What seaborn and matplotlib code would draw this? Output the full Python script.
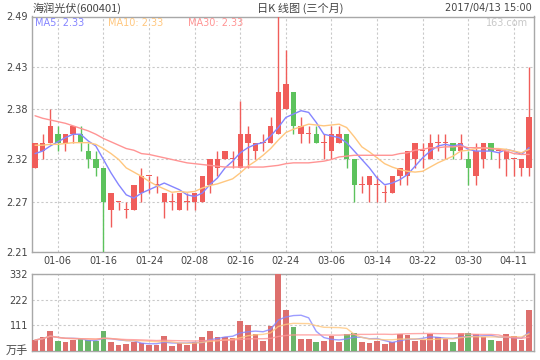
import numpy as np
import pandas as pd
import matplotlib
matplotlib.use("Agg")
import matplotlib.pyplot as plt
import seaborn as sns

# ---------------- data ----------------
dates = ["01-03", "01-04", "01-05", "01-06", "01-09", "01-10", "01-11", "01-12", "01-13",
         "01-16", "01-17", "01-18", "01-19", "01-20", "01-23", "01-24", "01-25", "01-26",
         "02-03", "02-06", "02-07", "02-08", "02-09", "02-10", "02-13", "02-14", "02-15",
         "02-16", "02-17", "02-20", "02-21", "02-22", "02-23", "02-24", "02-27", "02-28",
         "03-01", "03-02", "03-03", "03-06", "03-07", "03-08", "03-09", "03-10", "03-13",
         "03-14", "03-15", "03-16", "03-17", "03-20", "03-21", "03-22", "03-23", "03-24",
         "03-27", "03-28", "03-29", "03-30", "03-31", "04-05", "04-06", "04-07", "04-10",
         "04-11", "04-12", "04-13"]

opens = [2.31, 2.33, 2.34, 2.35, 2.34, 2.35, 2.35, 2.33, 2.32, 2.31,
         2.26, 2.27, 2.26, 2.26, 2.28, 2.30, 2.29, 2.27, 2.27, 2.26,
         2.27, 2.27, 2.27, 2.29, 2.31, 2.32, 2.32, 2.31, 2.34, 2.33,
         2.34, 2.34, 2.35, 2.38, 2.40, 2.35, 2.35, 2.35, 2.34, 2.33,
         2.34, 2.35, 2.32, 2.29, 2.29, 2.29, 2.28, 2.28, 2.30, 2.30,
         2.32, 2.33, 2.32, 2.34, 2.34, 2.34, 2.33, 2.32, 2.30, 2.32,
         2.34, 2.33, 2.32, 2.32, 2.31, 2.31]
highs = [2.34, 2.35, 2.38, 2.36, 2.35, 2.36, 2.36, 2.34, 2.33, 2.31,
         2.28, 2.27, 2.27, 2.29, 2.31, 2.30, 2.30, 2.28, 2.28, 2.28,
         2.28, 2.28, 2.30, 2.32, 2.33, 2.33, 2.33, 2.39, 2.36, 2.34,
         2.35, 2.37, 2.49, 2.45, 2.40, 2.37, 2.36, 2.36, 2.35, 2.36,
         2.36, 2.35, 2.32, 2.30, 2.30, 2.30, 2.29, 2.30, 2.31, 2.33,
         2.34, 2.34, 2.35, 2.35, 2.35, 2.34, 2.35, 2.33, 2.34, 2.34,
         2.34, 2.33, 2.33, 2.32, 2.32, 2.43]
lows = [2.31, 2.32, 2.34, 2.33, 2.33, 2.34, 2.33, 2.31, 2.30, 2.21,
        2.24, 2.26, 2.25, 2.26, 2.27, 2.28, 2.28, 2.25, 2.26, 2.26,
        2.26, 2.26, 2.27, 2.28, 2.30, 2.32, 2.31, 2.31, 2.31, 2.32,
        2.33, 2.34, 2.35, 2.38, 2.35, 2.34, 2.34, 2.34, 2.32, 2.32,
        2.34, 2.31, 2.27, 2.28, 2.27, 2.27, 2.27, 2.28, 2.29, 2.29,
        2.31, 2.31, 2.32, 2.33, 2.32, 2.32, 2.32, 2.29, 2.29, 2.31,
        2.32, 2.31, 2.30, 2.30, 2.30, 2.30]
closes = [2.34, 2.34, 2.36, 2.34, 2.35, 2.36, 2.34, 2.32, 2.31, 2.27,
          2.28, 2.27, 2.26, 2.29, 2.30, 2.30, 2.29, 2.28, 2.27, 2.28,
          2.27, 2.28, 2.30, 2.32, 2.32, 2.33, 2.32, 2.35, 2.35, 2.34,
          2.34, 2.36, 2.40, 2.41, 2.36, 2.36, 2.35, 2.34, 2.34, 2.35,
          2.35, 2.32, 2.29, 2.29, 2.30, 2.29, 2.28, 2.30, 2.31, 2.33,
          2.34, 2.33, 2.34, 2.34, 2.34, 2.33, 2.34, 2.31, 2.33, 2.34,
          2.33, 2.33, 2.33, 2.32, 2.32, 2.37]

ma5 = [2.327, 2.330, 2.336, 2.341, 2.346, 2.350, 2.350, 2.342, 2.336, 2.320,
       2.304, 2.290, 2.278, 2.274, 2.280, 2.284, 2.288, 2.292, 2.288, 2.284,
       2.278, 2.276, 2.280, 2.290, 2.298, 2.310, 2.318, 2.328, 2.334, 2.338,
       2.340, 2.348, 2.358, 2.370, 2.374, 2.378, 2.376, 2.364, 2.350, 2.348,
       2.346, 2.340, 2.330, 2.320, 2.310, 2.298, 2.290, 2.292, 2.296, 2.302,
       2.312, 2.322, 2.330, 2.336, 2.338, 2.336, 2.338, 2.332, 2.330, 2.330,
       2.330, 2.328, 2.332, 2.330, 2.326, 2.334]
ma10 = [2.337, 2.337, 2.338, 2.338, 2.339, 2.340, 2.340, 2.340, 2.338, 2.333,
        2.327, 2.320, 2.310, 2.305, 2.300, 2.294, 2.289, 2.285, 2.281, 2.282,
        2.281, 2.282, 2.286, 2.289, 2.291, 2.294, 2.297, 2.304, 2.312, 2.318,
        2.325, 2.333, 2.343, 2.352, 2.356, 2.359, 2.362, 2.361, 2.360, 2.361,
        2.362, 2.358, 2.347, 2.335, 2.329, 2.322, 2.315, 2.311, 2.308, 2.306,
        2.305, 2.306, 2.311, 2.316, 2.320, 2.324, 2.330, 2.331, 2.333, 2.334,
        2.333, 2.333, 2.332, 2.330, 2.328, 2.332]
ma30 = [2.372, 2.369, 2.367, 2.365, 2.363, 2.360, 2.357, 2.354, 2.350, 2.345,
        2.341, 2.337, 2.333, 2.331, 2.327, 2.326, 2.324, 2.322, 2.320, 2.318,
        2.316, 2.315, 2.314, 2.313, 2.312, 2.311, 2.311, 2.311, 2.311, 2.311,
        2.311, 2.312, 2.313, 2.315, 2.316, 2.316, 2.316, 2.317, 2.318, 2.320,
        2.323, 2.324, 2.325, 2.325, 2.325, 2.325, 2.325, 2.325, 2.327, 2.328,
        2.331, 2.332, 2.334, 2.334, 2.335, 2.335, 2.336, 2.334, 2.334, 2.334,
        2.333, 2.332, 2.330, 2.327, 2.326, 2.326]

volumes = [47.6, 59, 86.5, 43, 39, 47.6, 50, 47.6, 43, 86.5,
           39, 26, 30, 40, 35, 26, 26, 65, 22, 33,
           26, 40, 59, 86.5, 59, 59, 56, 130, 112, 73.5,
           45, 108, 332, 177, 105, 52, 52, 39, 43, 66,
           39, 73.5, 79, 39, 35, 43, 30, 39, 73.5, 69,
           45, 47.6, 73.5, 59, 53, 39, 79, 79, 73.5, 59,
           47.6, 43, 73.5, 65, 47.6, 177]

tick_dates = ["01-06", "01-16", "01-24", "02-08", "02-16", "02-24",
              "03-06", "03-14", "03-22", "03-30", "04-11"]
price_ticks = [2.21, 2.27, 2.32, 2.38, 2.43, 2.49]
vol_ticks = [111, 222, 332]

# ---------------- style ----------------
RED = "#F05D5A"
GREEN = "#5CC25C"
C_MA5 = "#8585FF"
C_MA10 = "#FFC77F"
C_MA30 = "#FF9494"
GRID = "#C9C9C9"
SPINE = "#A8A8A8"
TXT = "#444444"

sns.set_theme(style="white")
plt.rcParams['font.family'] = ['DejaVu Sans', 'Noto Sans CJK SC']
CJK = ['Noto Sans CJK SC', 'DejaVu Sans']

df = pd.DataFrame({"date": dates, "open": opens, "high": highs, "low": lows,
                   "close": closes, "ma5": ma5, "ma10": ma10, "ma30": ma30,
                   "vol": volumes})
df["i"] = np.arange(len(df))
df["dir"] = np.where(df["close"] >= df["open"], "up", "down")
colors = np.where(df["dir"] == "up", RED, GREEN)

fig = plt.figure(figsize=(5.4, 3.6), dpi=100)
W, H = 540.0, 360.0
ax = fig.add_axes([32 / W, 1 - 252 / H, 502 / W, (252 - 16.5) / H])
axv = fig.add_axes([32 / W, 1 - 351 / H, 502 / W, (351 - 274.3) / H])

xmin, xmax = -0.4, 65.65

# ---- price panel ----
ax.vlines(df["i"], df["low"], df["high"], color=colors, linewidth=1.0, zorder=3)
body_lo = np.minimum(df["open"], df["close"])
body_h = np.maximum(np.abs(df["close"] - df["open"]), 0.0012)
ax.bar(df["i"], body_h, bottom=body_lo, width=0.7, color=colors, linewidth=0, zorder=3)

sns.lineplot(data=df, x="i", y="ma5", color=C_MA5, linewidth=1.0, ax=ax, zorder=4)
sns.lineplot(data=df, x="i", y="ma10", color=C_MA10, linewidth=1.0, ax=ax, zorder=4)
sns.lineplot(data=df, x="i", y="ma30", color=C_MA30, linewidth=1.0, ax=ax, zorder=4)

tick_idx = [dates.index(d) for d in tick_dates]
ax.set_xlim(xmin, xmax)
ax.set_ylim(2.21, 2.49)
ax.set_xticks(tick_idx)
ax.set_xticklabels(tick_dates)
ax.set_yticks(price_ticks)
ax.set_yticklabels([f"{v:.2f}" for v in price_ticks])
ax.set_xlabel("")
ax.set_ylabel("")
ax.grid(True, linestyle=(0, (2, 2)), color=GRID, linewidth=0.8, zorder=0)
ax.tick_params(axis="both", length=0, labelsize=7, colors=TXT, pad=3)
for s in ax.spines.values():
    s.set_color(SPINE)
    s.set_linewidth(1.0)

# legend-like texts inside the price panel
ly = 0.971
ax.text(0.006, ly, f"MA5: {ma5[-1]:.2f}", transform=ax.transAxes, color=C_MA5,
        fontsize=7, va="center", ha="left", zorder=6)
ax.text(0.151, ly, f"MA10: {ma10[-1]:.2f}", transform=ax.transAxes, color=C_MA10,
        fontsize=7, va="center", ha="left", zorder=6)
ax.text(0.31, ly, f"MA30: {ma30[-1]:.2f}", transform=ax.transAxes, color=C_MA30,
        fontsize=7, va="center", ha="left", zorder=6)
ax.text(0.988, ly, "163.com", transform=ax.transAxes, color="#C8C8C8",
        fontsize=7, va="center", ha="right", zorder=6)

# ---- volume panel ----
vol_pal = {"up": RED, "down": GREEN}
sns.barplot(data=df, x="i", y="vol", hue="dir", palette=vol_pal, dodge=False,
            width=0.75, legend=False, errorbar=None, ax=axv, linewidth=0,
            native_scale=True, zorder=3)
vma5 = df["vol"].rolling(5, min_periods=1).mean()
vma10 = df["vol"].rolling(10, min_periods=1).mean()
vma30 = df["vol"].rolling(30, min_periods=1).mean()
axv.plot(df["i"], vma5, color=C_MA5, linewidth=1.0, alpha=0.8, zorder=4)
axv.plot(df["i"], vma10, color=C_MA10, linewidth=1.0, alpha=0.8, zorder=4)
axv.plot(df["i"], vma30, color=C_MA30, linewidth=1.0, alpha=0.8, zorder=4)

axv.set_xlim(xmin, xmax)
axv.set_ylim(0, 332)
axv.set_xticks(tick_idx)
axv.set_xticklabels([])
axv.set_yticks(vol_ticks)
axv.set_yticklabels([str(v) for v in vol_ticks])
axv.set_xlabel("")
axv.set_ylabel("")
axv.grid(True, linestyle=(0, (2, 2)), color=GRID, linewidth=0.8, zorder=0)
axv.tick_params(axis="both", length=0, labelsize=7, colors=TXT, pad=3)
for s in axv.spines.values():
    s.set_color(SPINE)
    s.set_linewidth(1.0)
axv.text(-0.008, 0.0, "万手", transform=axv.transAxes, ha="right", va="center",
         fontsize=8, color=TXT, family=CJK)

# ---- header ----
fig.text(33 / W, 1 - 8 / H, "海润光伏(600401)", ha="left", va="center",
         fontsize=8, color=TXT, family=CJK)
fig.text(300 / W, 1 - 8 / H, "日K 线图 (三个月)", ha="center", va="center",
         fontsize=8, color=TXT, family=CJK)
fig.text(532 / W, 1 - 8 / H, "2017/04/13 15:00", ha="right", va="center",
         fontsize=7, color=TXT)

fig.savefig("out.png", dpi=100, facecolor="white")
